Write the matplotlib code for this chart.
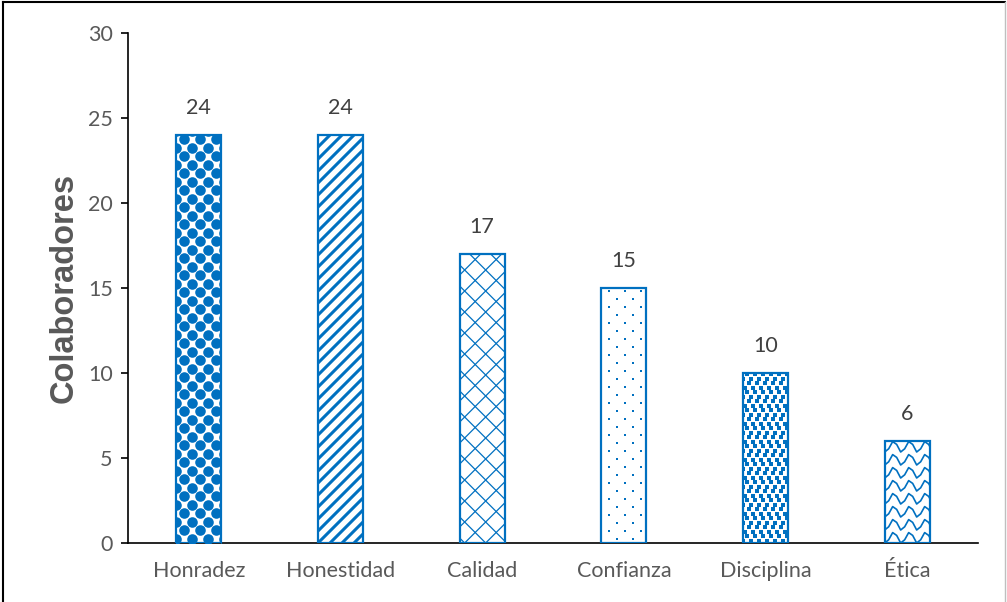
import numpy as np
import matplotlib.pyplot as plt
from matplotlib.lines import Line2D

categorias = ['Honradez', 'Honestidad', 'Calidad', 'Confianza', 'Disciplina', 'Ética']
colaboradores = [24, 24, 17, 15, 10, 6]
yticks = [0, 5, 10, 15, 20, 25, 30]

AZUL = '#0070C0'
GRIS = '#595959'

W, H, DPI = 1007, 602, 100
fig = plt.figure(figsize=(W / DPI, H / DPI), dpi=DPI)
ax = fig.add_axes([128 / W, 59 / H, 850 / W, 510 / H])
ax.set_xlim(-0.5, len(categorias) - 0.5)
ax.set_ylim(0, 30)

# pixeles por unidad de datos
SX = 850 / len(categorias)
SY = 510 / 30
ANCHO = 45 / SX

bars = ax.bar(range(len(categorias)), colaboradores, width=ANCHO,
              facecolor='white', edgecolor='none', zorder=2)


def grid_pts(bar, dx, dy, shifts=(0, 0.5)):
    # puntos de una rejilla (en px) sobre la barra, con desplazamiento por fila
    x0 = bar.get_x()
    w = bar.get_width() * SX
    h = bar.get_height() * SY
    xs, ys = [], []
    for j, yy in enumerate(np.arange(dy / 2, h + dy, dy)):
        shift = shifts[j % len(shifts)] * dx
        for xx in np.arange(-dx + shift, w + dx, dx):
            xs.append(x0 + xx / SX)
            ys.append(yy / SY)
    return xs, ys


def draw_points(bar, dx, dy, marker, size, shifts=(0, 0.5)):
    xs, ys = grid_pts(bar, dx, dy, shifts)
    sc = ax.scatter(xs, ys, s=size, marker=marker, color=AZUL,
                    linewidths=0, zorder=3)
    sc.set_clip_path(bar)


def draw_diag(bar, step, lw, direc=(1,)):
    x0 = bar.get_x()
    w = bar.get_width() * SX
    h = bar.get_height() * SY
    for d in direc:
        for c in np.arange(-h - step, w + h + step, step):
            px = np.array([c, c + d * (h + 10)])
            py = np.array([0, h + 10])
            ln = Line2D(x0 + px / SX, py / SY, color=AZUL, lw=lw, zorder=3)
            ax.add_line(ln)
            ln.set_clip_path(bar)


def draw_waves(bar, step, lw):
    # escamas: trazos en zigzag inclinados
    x0 = bar.get_x()
    w = bar.get_width() * SX
    h = bar.get_height() * SY
    for yy in np.arange(-step, h + step, step):
        px = np.arange(-16, w + 16, 4.0)
        k = np.arange(len(px)) % 4
        py = yy + np.choose(k, [0, 2, 8, 4]) + (px % 16) * 0.3
        ln = Line2D(x0 + px / SX, py / SY, color=AZUL, lw=lw, zorder=3)
        ax.add_line(ln)
        ln.set_clip_path(bar)


# relleno de cada barra
draw_points(bars[0], 16, 8.5, 'o', 58)
draw_diag(bars[1], 12, 2.2, (1,))
draw_diag(bars[2], 21, 0.9, (1, -1))
draw_points(bars[3], 16, 8, 's', 3)
draw_points(bars[4], 8, 4.5, 's', 10, shifts=(0, 0.5, 0.25, 0.75))
draw_waves(bars[5], 13, 1.2)

# contorno encima del relleno
ax.bar(range(len(categorias)), colaboradores, width=ANCHO,
       fill=False, edgecolor=AZUL, linewidth=1.6, zorder=4)

for i, v in enumerate(colaboradores):
    ax.annotate(str(v), (i, v), xytext=(0, 12), textcoords='offset points',
                ha='center', va='bottom', fontsize=15.5, color='#404040',
                family='Lato')

for s in ['top', 'right']:
    ax.spines[s].set_visible(False)
for s in ['left', 'bottom']:
    ax.spines[s].set_color('black')
    ax.spines[s].set_linewidth(1.2)

ax.set_xticks(range(len(categorias)))
ax.set_xticklabels(categorias, family='Lato', fontsize=15.5, color=GRIS)
ax.tick_params(axis='x', length=0, pad=13)
ax.set_yticks(yticks)
ax.set_yticklabels([str(t) for t in yticks], family='Lato', fontsize=15.5, color=GRIS)
ax.tick_params(axis='y', length=5, width=1.2, pad=6, direction='out')

ax.set_ylabel('Colaboradores', family='Liberation Sans', fontweight='bold',
              fontsize=23.5, color=GRIS, labelpad=6)

# marco de la figura
fig.add_artist(Line2D([3 / W, 3 / W], [0, 1 - 2 / H], color='black', lw=1.5))
fig.add_artist(Line2D([3 / W, 1005 / W], [1 - 2 / H, 1 - 2 / H], color='black', lw=1.5))
fig.add_artist(Line2D([1005 / W, 1005 / W], [0, 1 - 2 / H], color='#BFBFBF', lw=1.0))

fig.savefig('out.png', dpi=DPI)
